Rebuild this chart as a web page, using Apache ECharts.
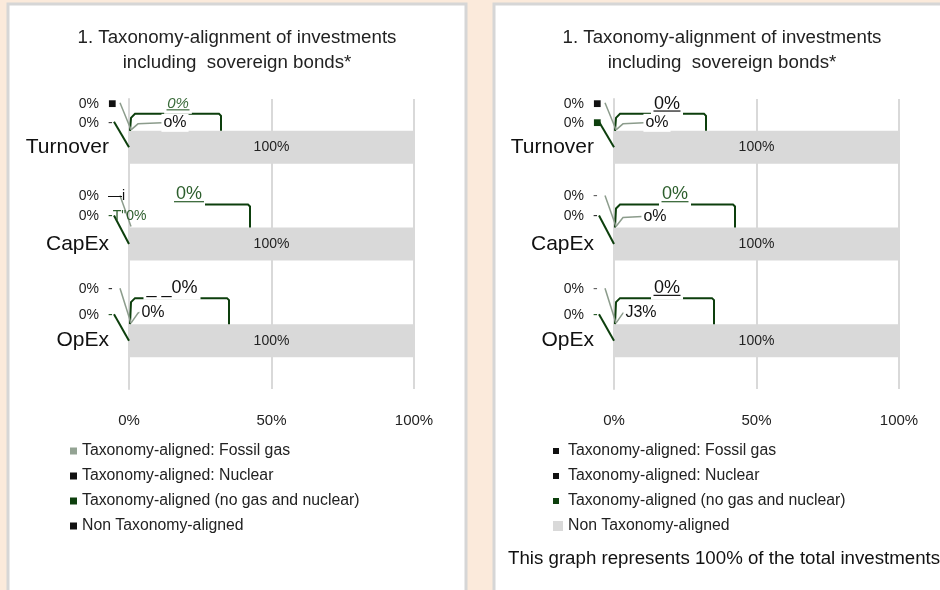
<!DOCTYPE html>
<html>
<head>
    <meta charset="utf-8">
    <title>Taxonomy alignment</title>
    <script src="https://cdn.jsdelivr.net/npm/echarts@6/dist/echarts.min.js"></script>
</head>
<body style="margin:0">
<div id="main" style="height: 590px; width: 940px;"></div>
<script type="text/javascript">
    // data
    var categories = ['Turnover', 'CapEx', 'OpEx'];
    var seriesNames = [
        'Taxonomy-aligned: Fossil gas',
        'Taxonomy-aligned: Nuclear',
        'Taxonomy-aligned (no gas and nuclear)',
        'Non Taxonomy-aligned'
    ];
    var fossilGas = [0, 0, 0];
    var nuclear = [0, 0, 0];
    var alignedOther = [0, 0, 0];
    var nonAligned = [100, 100, 100];
    var xTicks = [0, 50, 100];

    // callout texts as printed on each panel (the scan is rough, kept as is)
    var leftUpperText = [['0%', '■'], ['0%', '—i'], ['0%', '-']];
    var leftLowerText = [['0%', '-'], ['0%', '-T"0%'], ['0%', '-']];
    var leftTopText = ['0%', '0%', '_ _0%'];
    var leftInnerText = ['o%', '', '0%'];

    var rightUpperText = [['0%', '■'], ['0%', '-'], ['0%', '-']];
    var rightLowerText = [['0%', '■'], ['0%', '-'], ['0%', '-']];
    var rightTopText = ['0%', '0%', '0%'];
    var rightInnerText = ['o%', 'o%', 'J3%'];

    var footnote = 'This graph represents 100% of the total investments';
    var chartTitle = '1. Taxonomy-alignment of investments\nincluding  sovereign bonds*';

    // ---- styles and callout geometry (offsets from the start of each bar) ----
    var dkGreen = '#0d3f0d';
    var midGreen = '#2c5e2c';
    var font = 'Liberation Sans, Arial, sans-serif';
    var barW = 33;
    var geom = [
        { line: -17, right: 92, innerDy: -8, upDy: -27, lowDy: -8 },
        { line: -23, right: 121, innerDy: -11, upDy: -31, lowDy: -11 },
        { line: -26, right: 100, innerDy: -12, upDy: -35, lowDy: -9 }
    ];

    var panels = [
        {
            upper: leftUpperText, lower: leftLowerText, top: leftTopText, inner: leftInnerText,
            topDx: [49, 60, 43], innerDx: [46, 0, 24], bracketStart: [3, 76, 3],
            topStyle: [
                { color: '#3a6b3a', size: 15, italic: true, under: 23 },
                { color: midGreen, size: 18, italic: false, under: 30 },
                { color: '#111', size: 18, italic: false, under: 0 }
            ],
            upperMark: ['#111', '#111', '#333'],
            lowerMark: ['#444', midGreen, midGreen],
            legendColors: ['#93a393', '#111', dkGreen, '#111'],
            legendIcons: ['rect', 'rect', 'rect', 'rect'],
            legendLeft: 70, iconSize: 7,
            titleX: 237, gridLeft: 129
        },
        {
            upper: rightUpperText, lower: rightLowerText, top: rightTopText, inner: rightInnerText,
            topDx: [53, 61, 53], innerDx: [43, 41, 27], bracketStart: [3, 3, 3],
            topStyle: [
                { color: '#111', size: 18, italic: false, under: 27 },
                { color: midGreen, size: 18, italic: false, under: 27 },
                { color: '#111', size: 18, italic: false, under: 27 }
            ],
            upperMark: ['#111', '#666', '#666'],
            lowerMark: [dkGreen, '#333', midGreen],
            legendColors: ['#111', '#111', dkGreen, '#d9d9d9'],
            legendIcons: ['path://M0,0M10,10M0,2h6v6h-6z', 'path://M0,0M10,10M0,2h6v6h-6z',
                          'path://M0,0M10,10M0,2h6v6h-6z', 'rect'],
            legendLeft: 553, iconSize: 10,
            titleX: 722, gridLeft: 614
        }
    ];

    var myChart = echarts.init(document.getElementById('main'));

    function txt(x, y, text, size, color, align, extra) {
        var st = {
            text: text, fill: color, fontSize: size, fontFamily: font,
            align: align || 'left', verticalAlign: 'middle'
        };
        if (extra) for (var k in extra) st[k] = extra[k];
        return { type: 'text', x: x, y: y, style: st };
    }
    function line(points, color, width) {
        return { type: 'polyline', shape: { points: points },
                 style: { stroke: color, lineWidth: width, fill: null } };
    }

    // the zero-size aligned shares are shown through call-outs, as in the report
    function calloutRender(p) {
        return function (params, api) {
            var ci = api.value(0);
            var start = api.coord([api.value(1) + api.value(2) + api.value(3), ci]);
            var x0 = start[0], yt = start[1] - barW / 2;
            var g = geom[ci];
            var lineY = yt + g.line;
            var ts = p.topStyle[ci];
            var topX = x0 + p.topDx[ci], topY = lineY - 10;
            var kids = [];
            var bs = p.bracketStart[ci];
            var bracket = bs < 10
                ? [[x0 + 1, yt], [x0 + 2, lineY + 4], [x0 + 6, lineY]]
                : [[x0 + bs, lineY]];
            bracket.push([x0 + g.right - 2, lineY], [x0 + g.right, lineY + 2], [x0 + g.right, yt]);
            kids.push(line(bracket, dkGreen, 2));
            // left call-outs
            var upY = yt + g.upDy, lowY = yt + g.lowDy;
            kids.push(line([[x0 - 9, upY - 1], [x0 + 2, yt - 1]], '#8c9c8c', 1.5));
            kids.push(line([[x0 - 15, lowY - 1], [x0, yt + barW / 2]], dkGreen, 2));
            kids.push(txt(x0 - 30, upY, p.upper[ci][0], 14, '#222', 'right'));
            kids.push(txt(x0 - 21, upY, p.upper[ci][1], 14, p.upperMark[ci], 'left'));
            kids.push(txt(x0 - 30, lowY, p.lower[ci][0], 14, '#222', 'right'));
            kids.push(txt(x0 - 21, lowY, p.lower[ci][1], 14, p.lowerMark[ci], 'left'));
            // inner label with grey leader
            if (p.inner[ci] !== '') {
                var ix = x0 + p.innerDx[ci], iy = yt + g.innerDy;
                kids.push(line([[x0 + 2, yt - 1], [x0 + 9, iy + 1], [ix - 13, iy]], '#8c9c8c', 1.5));
                kids.push(txt(ix, iy, p.inner[ci], 16, '#111', 'center',
                    { backgroundColor: '#fff', padding: [1, 2, 1, 2] }));
            }
            // top label sitting on the bracket
            kids.push(txt(topX, topY, p.top[ci], ts.size, ts.color, 'center',
                { backgroundColor: '#fff', padding: [1, 3, 4, 3], fontStyle: ts.italic ? 'italic' : 'normal' }));
            if (ts.under) {
                var uy = topY + ts.size * 0.4;
                kids.push(line([[topX - ts.under / 2, uy], [topX + ts.under / 2, uy]], ts.color, 1.2));
            }
            return { type: 'group', children: kids };
        };
    }

    function buildSeries(p, gi) {
        var common = {
            type: 'bar', stack: 'total' + gi, xAxisIndex: gi, yAxisIndex: gi, barWidth: barW
        };
        var out = [
            Object.assign({}, common, { name: seriesNames[0], itemStyle: { color: '#93a393' }, data: fossilGas }),
            Object.assign({}, common, { name: seriesNames[1], itemStyle: { color: '#111' }, data: nuclear }),
            Object.assign({}, common, { name: seriesNames[2], itemStyle: { color: dkGreen }, data: alignedOther }),
            Object.assign({}, common, {
                name: seriesNames[3], itemStyle: { color: '#d9d9d9' }, data: nonAligned,
                label: { show: true, position: 'inside', fontFamily: font, fontSize: 14, color: '#222', formatter: '{c}%' }
            })
        ];
        out.push({
            type: 'custom', xAxisIndex: gi, yAxisIndex: gi, z: 5, silent: true,
            renderItem: calloutRender(p),
            data: categories.map(function (c, i) { return [i, fossilGas[i], nuclear[i], alignedOther[i]]; })
        });
        return out;
    }

    var grids = [], xAxes = [], yAxes = [], legends = [], titles = [], series = [];
    panels.forEach(function (p, gi) {
        grids.push({ left: p.gridLeft, width: 285, top: 99, height: 290 });
        xAxes.push({
            type: 'value', gridIndex: gi, min: xTicks[0], max: xTicks[xTicks.length - 1],
            interval: xTicks[1] - xTicks[0],
            axisLine: { show: false }, axisTick: { show: false },
            splitLine: { lineStyle: { color: '#d9d9d9', width: 2 } },
            axisLabel: { formatter: '{value}%', fontFamily: font, fontSize: 15, color: '#222', margin: 24 }
        });
        yAxes.push({
            type: 'category', gridIndex: gi, data: categories, inverse: true,
            axisLine: { lineStyle: { color: '#d9d9d9', width: 2 } },
            axisTick: { show: false },
            axisLabel: { fontFamily: font, fontSize: 21, color: '#111', margin: 20 }
        });
        legends.push({
            orient: 'vertical', left: p.legendLeft, top: 442, itemGap: 7, padding: 0,
            itemWidth: p.iconSize, itemHeight: p.iconSize, selectedMode: false,
            textStyle: { fontFamily: font, fontSize: 15.8, color: '#222', lineHeight: 18 },
            data: seriesNames.map(function (n, i) {
                return { name: n, icon: p.legendIcons[i], itemStyle: { color: p.legendColors[i] } };
            })
        });
        titles.push({
            text: chartTitle, left: p.titleX, top: 25, textAlign: 'center', padding: 0,
            textStyle: { fontFamily: font, fontSize: 18.7, fontWeight: 'normal', color: '#222', lineHeight: 25 }
        });
        series = series.concat(buildSeries(p, gi));
    });
    titles.push({
        text: footnote, left: 508, top: 549, padding: 0,
        textStyle: { fontFamily: font, fontSize: 18.7, fontWeight: 'normal', color: '#111', lineHeight: 20 }
    });

    var option = {
        backgroundColor: '#fbeadb',
        animation: false,
        title: titles,
        legend: legends,
        grid: grids,
        xAxis: xAxes,
        yAxis: yAxes,
        graphic: [
            { type: 'rect', z: -10, silent: true, shape: { x: 8, y: 4, width: 458, height: 600 },
              style: { fill: '#fff', stroke: '#d6d6d6', lineWidth: 3 } },
            { type: 'rect', z: -10, silent: true, shape: { x: 494, y: 4, width: 460, height: 600 },
              style: { fill: '#fff', stroke: '#d6d6d6', lineWidth: 3 } }
        ],
        series: series
    };

    myChart.setOption(option);
</script>
</body>
</html>
